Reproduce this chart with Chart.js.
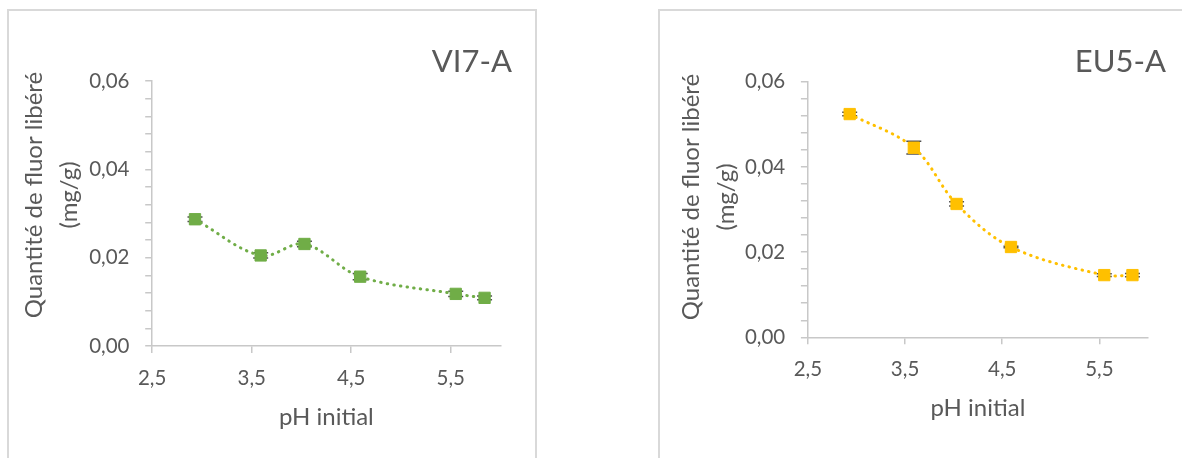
<!DOCTYPE html>
<html>
<head>
<meta charset="utf-8">
<script src="https://cdn.jsdelivr.net/npm/chart.js@4.4.1/dist/chart.umd.min.js"></script>
<style>
  html, body { margin: 0; padding: 0; background: #fff; width: 1182px; height: 458px; overflow: hidden; position: relative; }
  .panel { position: absolute; border: 2px solid #d9d9d9; box-sizing: border-box; }
  #panelLeft { left: 7px; top: 9px; width: 530px; height: 470px; }
  #panelRight { left: 658px; top: 9px; width: 560px; height: 470px; }
  .wrap { position: absolute; top: 0; width: 591px; height: 458px; }
  canvas { display: block; }
</style>
</head>
<body>
<div class="panel" id="panelLeft"></div>
<div class="panel" id="panelRight"></div>
<div class="wrap" style="left:0"><canvas id="chartVI7A" width="591" height="458"></canvas></div>
<div class="wrap" style="left:591px"><canvas id="chartEU5A" width="591" height="458"></canvas></div>

<script>
// Initial pH of each test
const phInitial = [2.93, 3.59, 4.03, 4.59, 5.55, 5.84];

// Fluoride released (mg/g) and standard deviation, sample VI7-A
const fluorVI7A = [0.0287, 0.0205, 0.0231, 0.0157, 0.0118, 0.0109];
const errVI7A   = [0.0005, 0.0006, 0.0006, 0.0007, 0.0006, 0.0004];

// Fluoride released (mg/g) and standard deviation, sample EU5-A
const fluorEU5A = [0.0524, 0.0445, 0.0313, 0.0212, 0.0146, 0.0146];
const errEU5A   = [0.0004, 0.0015, 0.0005, 0.0002, 0.0003, 0.0004];

// Axis ticks
const xTicks = [2.5, 3.5, 4.5, 5.5];
const xRange = [2.5, 6.0];
const yTicks = [0, 0.02, 0.04, 0.06];
const yMinorPerMajor = 5;

const yTitleLines = ['Quantité de fluor libéré', '(mg/g)'];
const xTitle = 'pH initial';

const TEXT = '#595959';
const AXIS = '#c8c8c8';
const FONT = 'Lato';

const fmtComma = (v, d) => v.toFixed(d).replace('.', ',');

// major ticks plus the minor marks between them
const yAllTicks = [];
yTicks.forEach((v, i) => {
  yAllTicks.push(v);
  if (i < yTicks.length - 1) {
    const step = (yTicks[i + 1] - v) / yMinorPerMajor;
    for (let k = 1; k < yMinorPerMajor; k++) yAllTicks.push(v + k * step);
  }
});
const isMajorY = v => yTicks.some(t => Math.abs(t - v) < 1e-9);

// vertical error bars, drawn under the markers
const errorBars = {
  id: 'errorBars',
  beforeDatasetsDraw(chart, args, opts) {
    const { ctx, scales: { x, y } } = chart;
    chart.data.datasets.forEach(ds => {
      if (!ds.errors) return;
      ctx.save();
      ctx.strokeStyle = opts.color;
      ctx.lineWidth = opts.width;
      ds.data.forEach((p, i) => {
        const e = ds.errors[i];
        const px = x.getPixelForValue(p.x);
        const top = y.getPixelForValue(p.y + e);
        const bot = y.getPixelForValue(p.y - e);
        ctx.beginPath();
        ctx.moveTo(px, top); ctx.lineTo(px, bot);
        ctx.moveTo(px - opts.cap, top); ctx.lineTo(px + opts.cap, top);
        ctx.moveTo(px - opts.cap, bot); ctx.lineTo(px + opts.cap, bot);
        ctx.stroke();
      });
      ctx.restore();
    });
  }
};

// sample name and two-line vertical axis title
const panelText = {
  id: 'panelText',
  afterDraw(chart, args, o) {
    const { ctx, chartArea } = chart;
    ctx.save();
    ctx.fillStyle = TEXT;
    ctx.textBaseline = 'middle';
    ctx.font = `${o.titleSize}px ${FONT}`;
    ctx.textAlign = 'right';
    ctx.fillText(o.title, chartArea.right + o.titleDx, o.titleY);
    ctx.font = `${o.axisSize}px ${FONT}`;
    ctx.textAlign = 'center';
    o.lines.forEach((line, i) => {
      ctx.save();
      ctx.translate(chartArea.left + o.linesDx + i * o.lineGap, o.linesY);
      ctx.rotate(-Math.PI / 2);
      ctx.fillText(line, 0, 0);
      ctx.restore();
    });
    ctx.restore();
  }
};

function makeChart(id, title, values, errors, color, area, text) {
  const H = 458, W = 591, xAxisH = 112;
  return new Chart(document.getElementById(id), {
    type: 'line',
    data: {
      datasets: [{
        data: phInitial.map((ph, i) => ({ x: ph, y: values[i] })),
        errors: errors,
        borderColor: color,
        borderWidth: 3,
        borderDash: [0.5, 6.2],
        borderCapStyle: 'round',
        tension: 0.35,
        fill: false,
        pointStyle: 'rect',
        pointRadius: 8,
        pointBorderWidth: 1,
        pointBackgroundColor: color,
        pointBorderColor: color
      }]
    },
    options: {
      responsive: false,
      animation: false,
      events: [],
      layout: {
        padding: { left: 0, top: area.top, right: W - area.right, bottom: H - area.bottom - xAxisH }
      },
      scales: {
        x: {
          type: 'linear',
          min: xRange[0], max: xRange[1],
          afterBuildTicks: s => { s.ticks = xTicks.map(v => ({ value: v })); },
          afterFit: s => { s.height = xAxisH; },
          ticks: {
            autoSkip: false, maxRotation: 0, padding: 12.7, color: TEXT,
            font: { family: FONT, size: 20.5 },
            callback: v => fmtComma(v, 1)
          },
          grid: { drawOnChartArea: false, tickLength: 7, color: AXIS, lineWidth: 1.5 },
          border: { color: AXIS, width: 1.5 },
          title: {
            display: true, text: xTitle, color: TEXT,
            font: { family: FONT, size: 24, lineHeight: 1.2 },
            padding: { top: 0, bottom: 26.6 }
          }
        },
        y: {
          type: 'linear',
          min: yTicks[0], max: yTicks[yTicks.length - 1],
          afterBuildTicks: s => { s.ticks = yAllTicks.map(v => ({ value: v })); },
          afterFit: s => { s.width = area.left; },
          ticks: {
            autoSkip: false, padding: 15.7, color: TEXT,
            font: { family: FONT, size: 20.5 },
            callback: v => isMajorY(v) ? fmtComma(v, 2) : ''
          },
          grid: { drawOnChartArea: false, tickLength: 7, color: AXIS, lineWidth: 1.5 },
          border: { color: AXIS, width: 1.5 }
        }
      },
      plugins: {
        legend: { display: false },
        tooltip: { enabled: false },
        title: { display: false },
        errorBars: { color: '#505050', width: 1.5, cap: 7.5 },
        panelText: Object.assign({ title: title, lines: yTitleLines, titleSize: 31, axisSize: 24, lineGap: 35 }, text)
      }
    },
    plugins: [errorBars, panelText]
  });
}

makeChart('chartVI7A', 'VI7-A', fluorVI7A, errVI7A, '#70ad47',
  { left: 152.2, right: 500.5, top: 81, bottom: 346 },
  { titleDx: 11.5, titleY: 62, linesDx: -118, linesY: 195 });

makeChart('chartEU5A', 'EU5-A', fluorEU5A, errEU5A, '#ffc000',
  { left: 216.9, right: 557, top: 81.7, bottom: 337.3 },
  { titleDx: 18, titleY: 62, linesDx: -117, linesY: 197 });
</script>
</body>
</html>
